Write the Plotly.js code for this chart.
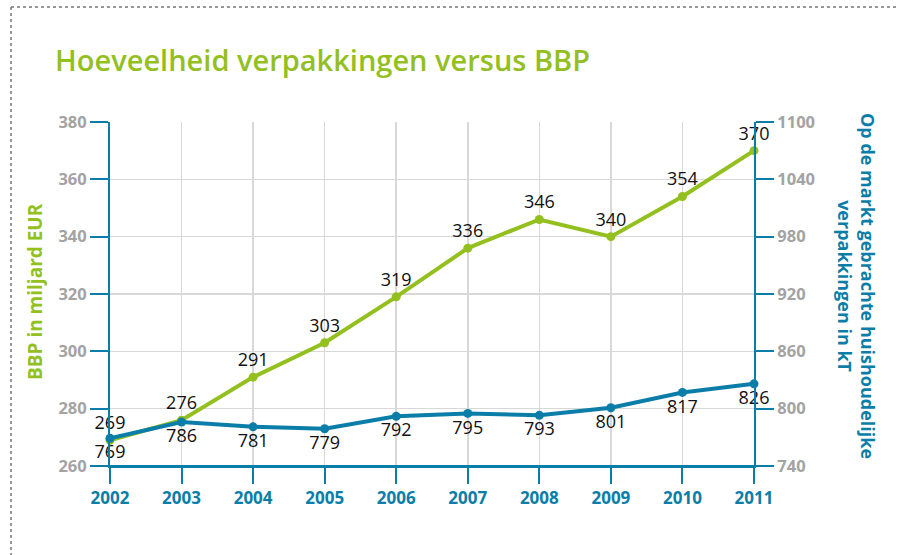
<!DOCTYPE html>
<html><head><meta charset="utf-8">
<script src="https://cdn.plot.ly/plotly-3.0.1.min.js"></script>
<style>html,body{margin:0;padding:0;background:#fff}#chart{width:897px;height:555px}</style>
</head><body><div id="chart"></div>
<script>
const years = [2002,2003,2004,2005,2006,2007,2008,2009,2010,2011];
const bbp = [269,276,291,303,319,336,346,340,354,370];
const verpakkingen = [769,786,781,779,792,795,793,801,817,826];
const leftTicks = [260,280,300,320,340,360,380];
const rightTicks = [740,800,860,920,980,1040,1100];

const GREEN = '#93c01f', BLUE = '#0a7ea8', GREY = '#a3a3a3', GRID = '#d8d8d8';
const FONT = 'Open Sans, sans-serif';

const traces = [
  {x: years, y: bbp, type: 'scatter', mode: 'lines+markers+text', name: 'BBP',
   line: {color: GREEN, width: 4}, marker: {color: GREEN, size: 9},
   text: bbp.map(String), textposition: 'top center',
   textfont: {family: FONT, size: 18, color: '#111'}, cliponaxis: false},
  {x: years, y: verpakkingen, type: 'scatter', mode: 'lines+markers+text', name: 'Verpakkingen', yaxis: 'y2',
   line: {color: BLUE, width: 4}, marker: {color: BLUE, size: 9},
   text: verpakkingen.map(String), textposition: 'bottom center',
   textfont: {family: FONT, size: 18, color: '#111'}, cliponaxis: false}
];

const L = 110, R = 143, T = 122, B = 89, W = 897, H = 555;
const pw = W - L - R, ph = H - T - B;
const px = v => (v - L) / pw;
const py = v => (H - B - v) / ph;

const layout = {
  width: W, height: H,
  margin: {l: L, r: R, t: T, b: B},
  paper_bgcolor: '#fff', plot_bgcolor: '#fff',
  showlegend: false,
  font: {family: FONT},
  title: {text: 'Hoeveelheid verpakkingen versus BBP', x: 55 / W, xanchor: 'left', y: 1 - 61 / H, yanchor: 'middle',
          font: {family: FONT, size: 29, color: GREEN, weight: 600}},
  xaxis: {range: [2002, 2011], tickvals: years, ticktext: years.map(String),
          showgrid: true, gridcolor: GRID, gridwidth: 1.5, zeroline: false,
          showline: true, linecolor: BLUE, linewidth: 2,
          ticks: 'outside', ticklen: 16, tickwidth: 2, tickcolor: BLUE,
          tickfont: {family: FONT, size: 17, color: BLUE, weight: 700}},
  yaxis: {range: [260, 380], tickvals: leftTicks, ticktext: leftTicks.map(String),
          showgrid: true, gridcolor: GRID, gridwidth: 1.5, zeroline: false,
          showline: true, linecolor: BLUE, linewidth: 2,
          ticks: 'outside', ticklen: 18, tickwidth: 2, tickcolor: BLUE,
          tickfont: {family: FONT, size: 16.5, color: GREY, weight: 700}},
  yaxis2: {range: [740, 1100], tickvals: rightTicks, ticktext: rightTicks.map(String),
           overlaying: 'y', side: 'right', showgrid: false, zeroline: false,
           showline: true, linecolor: BLUE, linewidth: 2,
           ticks: 'outside', ticklen: 18, tickwidth: 2, tickcolor: BLUE,
           tickfont: {family: FONT, size: 16.5, color: GREY, weight: 700}},
  annotations: [
    {text: 'BBP in miljard EUR', xref: 'paper', yref: 'paper', x: px(35), y: py(292),
     textangle: -90, showarrow: false, xanchor: 'center', yanchor: 'middle',
     font: {family: FONT, size: 19, color: GREEN, weight: 700}},
    {text: 'Op de markt gebrachte huishoudelijke<br>verpakkingen in kT', xref: 'paper', yref: 'paper',
     x: px(857), y: py(286), textangle: 90, showarrow: false, xanchor: 'center', yanchor: 'middle',
     font: {family: FONT, size: 18, color: BLUE, weight: 700}}
  ],
  shapes: [
    {type: 'line', xref: 'paper', yref: 'paper', x0: px(92), x1: px(772), y0: 0, y1: 0,
     line: {color: BLUE, width: 2}, layer: 'above'},
    {type: 'line', xref: 'paper', yref: 'paper', x0: px(11), x1: px(897), y0: py(7), y1: py(7),
     line: {color: '#777', width: 1.5, dash: 'dot'}},
    {type: 'line', xref: 'paper', yref: 'paper', x0: px(11), x1: px(11), y0: py(7), y1: py(555),
     line: {color: '#777', width: 1.5, dash: 'dot'}}
  ]
};

Plotly.newPlot('chart', traces, layout, {displayModeBar: false, staticPlot: true});
</script></body></html>
